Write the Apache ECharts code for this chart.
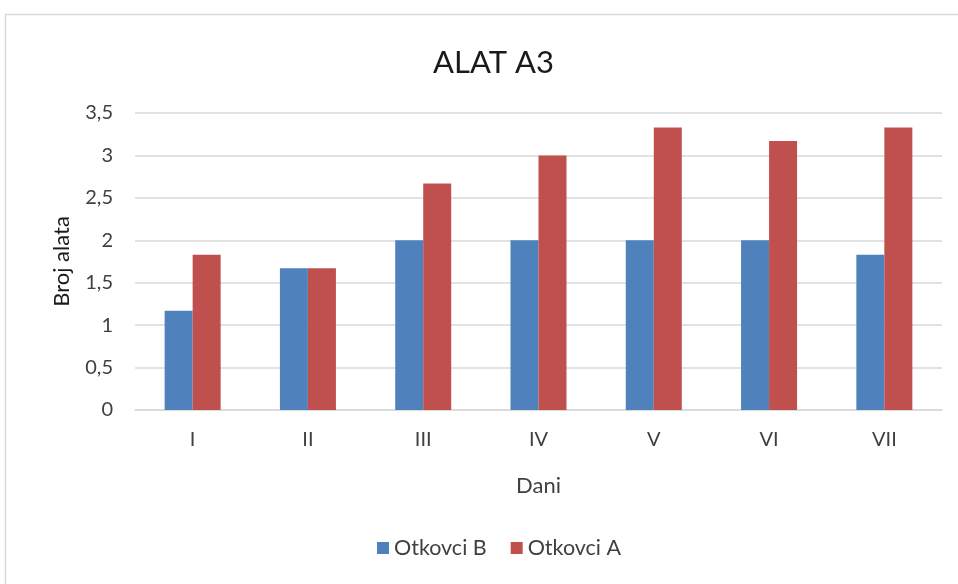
<!DOCTYPE html>
<html><head><meta charset="utf-8">
<script src="https://cdn.jsdelivr.net/npm/echarts@6/dist/echarts.min.js"></script>
<style>html,body{margin:0;padding:0;background:#fff}#c{width:958px;height:584px}</style>
</head><body><div id="c"></div>
<script>
const categories = ['I','II','III','IV','V','VI','VII'];
const otkovciB = [1.17, 1.67, 2, 2, 2, 2, 1.83];
const otkovciA = [1.83, 1.67, 2.67, 3, 3.33, 3.17, 3.33];
const yTicks = [0, 0.5, 1, 1.5, 2, 2.5, 3, 3.5];

const font = 'Lato, "Open Sans", sans-serif';
const chart = echarts.init(document.getElementById('c'));
chart.setOption({
  animation: false,
  textStyle: {fontFamily: font},
  graphic: [{type:'rect', shape:{x:5.5,y:14.5,width:960,height:580}, style:{fill:'none', stroke:'#d9d9d9', lineWidth:1.5}, silent:true}],
  title: {text:'ALAT A3', left:428, top:42, textStyle:{fontFamily:font, fontSize:31, fontWeight:'normal', color:'#1a1a1a'}},
  legend: {bottom:20, left:372, itemWidth:12, itemHeight:12, itemGap:24, icon:'rect',
    textStyle:{fontFamily:font, fontSize:21.5, color:'#404040'}, data:['Otkovci B','Otkovci A']},
  grid: {left:135, right:16, top:113, bottom:174},
  xAxis: {type:'category', data:categories, name:'Dani', nameLocation:'middle', nameGap:65,
    nameTextStyle:{fontFamily:font, fontSize:22, color:'#404040'},
    axisLine:{lineStyle:{color:'#d9d9d9', width:1.5}}, axisTick:{show:false},
    axisLabel:{fontFamily:font, fontSize:20, color:'#404040', margin:20}},
  yAxis: {type:'value', min:0, max:3.5, interval:0.5, name:'Broj alata', nameLocation:'middle', nameGap:62,
    nameTextStyle:{fontFamily:font, fontSize:22, color:'#1a1a1a'},
    axisLine:{show:false}, axisTick:{show:false},
    splitLine:{lineStyle:{color:'#d9d9d9', width:1.5}},
    axisLabel:{fontFamily:font, fontSize:20, color:'#404040', margin:22,
      formatter: v => String(v).replace('.', ',')}},
  series: [
    {name:'Otkovci B', type:'bar', data:otkovciB, barWidth:28, barGap:'0%', itemStyle:{color:'#4f81bd'}},
    {name:'Otkovci A', type:'bar', data:otkovciA, barWidth:28, barGap:'0%', itemStyle:{color:'#c0504d'}}
  ]
});
</script></body></html>
